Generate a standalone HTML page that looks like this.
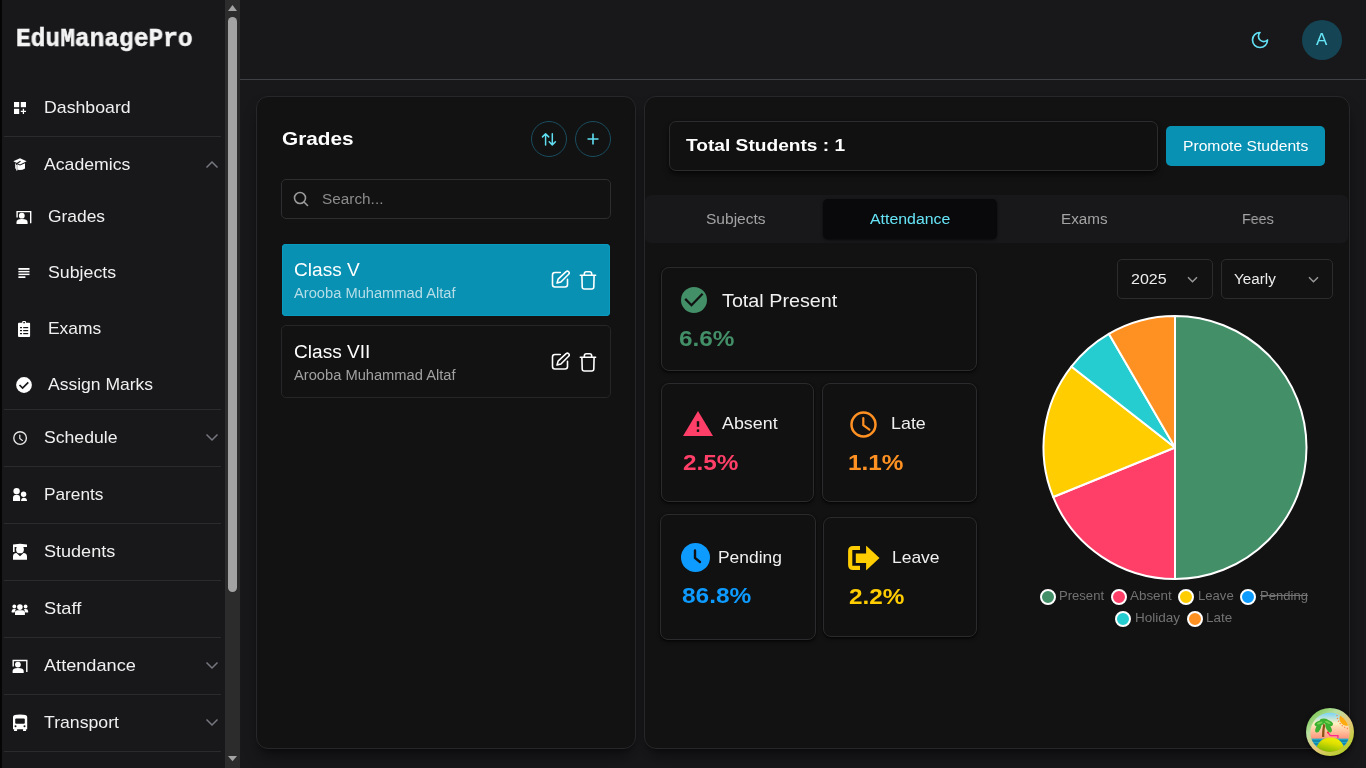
<!DOCTYPE html><html><head><meta charset="utf-8"><style>
html,body{margin:0;padding:0;width:1366px;height:768px;overflow:hidden;background:#18181b;font-family:'Liberation Sans', sans-serif;}
.t{position:absolute;white-space:nowrap;transform-origin:0 0;will-change:transform;}
.b{position:absolute;box-sizing:border-box;}
</style></head><body>
<div class="b" style="left:0px;top:0px;width:2px;height:768px;background:#050505"></div>
<div class="b" style="left:2px;top:0px;width:223px;height:768px;background:#18181b"></div>
<div class="b" style="left:225px;top:0px;width:15px;height:768px;background:#2c2c2c"></div>
<div class="b" style="left:228px;top:17px;width:9px;height:575px;background:#a3a3a3;border-radius:5px"></div>
<svg class="b" style="left:228px;top:5px;" width="9" height="6" viewBox="0 0 9 6"><path d="M0 6 L4.5 0 L9 6 Z" fill="#a3a3a3"/></svg>
<svg class="b" style="left:228px;top:756px;" width="9" height="6" viewBox="0 0 9 6"><path d="M0 0 L9 0 L4.5 5.2 Z" fill="#a3a3a3"/></svg>
<div class="t" style="left:16.10px;top:27px;font-size:25.5px;line-height:25.5px;color:#f4f4f4;font-weight:700;font-family:'Liberation Mono', monospace;transform:scaleX(0.9620);-webkit-text-stroke:0.5px #f4f4f4;">EduManagePro</div>
<div class="t" style="left:44.30px;top:100px;font-size:16.96px;line-height:16.96px;color:#f0f0f0;font-weight:400;font-family:'Liberation Sans', sans-serif;transform:scaleX(1.0462);">Dashboard</div>
<div class="b" style="left:4px;top:136px;width:217px;height:1px;background:#2b2b2d"></div>
<div class="t" style="left:44.30px;top:157px;font-size:16.96px;line-height:16.96px;color:#f0f0f0;font-weight:400;font-family:'Liberation Sans', sans-serif;transform:scaleX(1.0420);">Academics</div>
<div class="t" style="left:48.10px;top:209px;font-size:16.96px;line-height:16.96px;color:#f0f0f0;font-weight:400;font-family:'Liberation Sans', sans-serif;transform:scaleX(1.0270);">Grades</div>
<div class="t" style="left:48.10px;top:265px;font-size:16.96px;line-height:16.96px;color:#f0f0f0;font-weight:400;font-family:'Liberation Sans', sans-serif;transform:scaleX(1.0476);">Subjects</div>
<div class="t" style="left:48.10px;top:321px;font-size:16.96px;line-height:16.96px;color:#f0f0f0;font-weight:400;font-family:'Liberation Sans', sans-serif;transform:scaleX(1.0284);">Exams</div>
<div class="t" style="left:48.10px;top:377px;font-size:16.96px;line-height:16.96px;color:#f0f0f0;font-weight:400;font-family:'Liberation Sans', sans-serif;transform:scaleX(1.0339);">Assign Marks</div>
<div class="b" style="left:4px;top:409px;width:217px;height:1px;background:#2b2b2d"></div>
<div class="t" style="left:44.30px;top:430px;font-size:16.96px;line-height:16.96px;color:#f0f0f0;font-weight:400;font-family:'Liberation Sans', sans-serif;transform:scaleX(1.0396);">Schedule</div>
<div class="b" style="left:4px;top:466px;width:217px;height:1px;background:#2b2b2d"></div>
<div class="t" style="left:44.30px;top:487px;font-size:16.96px;line-height:16.96px;color:#f0f0f0;font-weight:400;font-family:'Liberation Sans', sans-serif;transform:scaleX(1.0189);">Parents</div>
<div class="b" style="left:4px;top:523px;width:217px;height:1px;background:#2b2b2d"></div>
<div class="t" style="left:44.30px;top:544px;font-size:16.96px;line-height:16.96px;color:#f0f0f0;font-weight:400;font-family:'Liberation Sans', sans-serif;transform:scaleX(1.0654);">Students</div>
<div class="b" style="left:4px;top:580px;width:217px;height:1px;background:#2b2b2d"></div>
<div class="t" style="left:44.30px;top:601px;font-size:16.96px;line-height:16.96px;color:#f0f0f0;font-weight:400;font-family:'Liberation Sans', sans-serif;transform:scaleX(1.0776);">Staff</div>
<div class="b" style="left:4px;top:637px;width:217px;height:1px;background:#2b2b2d"></div>
<div class="t" style="left:44.30px;top:658px;font-size:16.96px;line-height:16.96px;color:#f0f0f0;font-weight:400;font-family:'Liberation Sans', sans-serif;transform:scaleX(1.0714);">Attendance</div>
<div class="b" style="left:4px;top:694px;width:217px;height:1px;background:#2b2b2d"></div>
<div class="t" style="left:44.30px;top:715px;font-size:16.96px;line-height:16.96px;color:#f0f0f0;font-weight:400;font-family:'Liberation Sans', sans-serif;transform:scaleX(1.0435);">Transport</div>
<div class="b" style="left:4px;top:751px;width:217px;height:1px;background:#2b2b2d"></div>
<svg class="b" style="left:0;top:0" width="240" height="768"><rect x="14" y="102" width="5.2" height="5.2" fill="#ffffff"/><rect x="20.8" y="102" width="5.2" height="5.2" fill="#ffffff"/><rect x="14" y="108.8" width="5.2" height="5.2" fill="#ffffff"/><path d="M23.4 108.8v5.2M20.8 111.4h5.2" stroke="#ffffff" stroke-width="1.3"/><path d="M13.3 161.3 L20 158.3 L26.6 161.3 L20 164.4 Z" fill="#ffffff"/><path d="M15.2 163.2 V168.5 Q20 171.5 25 168.5 V163.2 L20 165.5 Z" fill="#ffffff"/><path d="M20.5 161.2 L16.8 163.6 V171.5" fill="none" stroke="#18181b" stroke-width="1.1"/><path d="M16.8 165 V170.5" stroke="#ffffff" stroke-width="1.2"/><path d="M17.099999999999998 217.5 V211.6 H30.7 V223.20000000000002" fill="none" stroke="#ffffff" stroke-width="1.4"/>
<circle cx="21.799999999999997" cy="215.70000000000002" r="2.9" fill="#ffffff"/>
<path d="M16.5 224.1 V222.1 Q16.5 219.1 21.9 219.1 Q27.599999999999998 219.1 27.599999999999998 222.1 V224.1 Z" fill="#ffffff"/><rect x="18.4" y="268" width="11.1" height="1.8" fill="#ffffff"/><rect x="18.4" y="270.9" width="11.1" height="1.5" fill="#ffffff"/><rect x="18.4" y="273.6" width="11.1" height="1.5" fill="#ffffff"/><rect x="18.4" y="276.3" width="7" height="1.7" fill="#ffffff"/><rect x="18" y="322.8" width="12.1" height="14.3" rx="1" fill="#ffffff"/><rect x="22.2" y="320.9" width="3.8" height="3.4" rx="1" fill="#ffffff"/><g fill="#18181b"><rect x="20" y="327" width="2" height="1.2"/><rect x="23.2" y="327" width="5" height="1.2"/><rect x="20" y="330" width="2" height="1.2"/><rect x="23.2" y="330" width="5" height="1.2"/><rect x="20" y="333" width="2" height="1.2"/><rect x="23.2" y="333" width="5" height="1.2"/><rect x="23.3" y="322" width="1.6" height="1.3"/></g><circle cx="24" cy="385" r="7.9" fill="#ffffff"/><path d="M19.5 385 L22.6 388.1 L28.3 382.3" fill="none" stroke="#18181b" stroke-width="1.7"/><circle cx="20.1" cy="438" r="6.3" fill="none" stroke="#e8e8e8" stroke-width="1.35"/><path d="M19.8 435.1 V438.5 L22.4 440.4" fill="none" stroke="#e8e8e8" stroke-width="1.2" stroke-linecap="round"/><circle cx="16.6" cy="491.1" r="3.2" fill="#ffffff"/><path d="M13 501 V498 Q13 494.8 16.6 494.8 Q20.1 494.8 20.1 498 V501 Z" fill="#ffffff"/><circle cx="23.6" cy="494.3" r="2.7" fill="#ffffff"/><path d="M21 501 Q21.3 497.8 23.8 497.8 Q26.8 497.8 27.1 501 Z" fill="#ffffff"/><path d="M13 544.5 L20 543.8 L27 544.5 V547 H13 Z" fill="#ffffff"/><rect x="13" y="547" width="1.6" height="5" fill="#ffffff"/><circle cx="20" cy="549.4" r="3.9" fill="#ffffff"/><path d="M13 559.8 V556.5 Q13 553.2 16.5 553 L20 556.2 L23.5 553 Q27 553.2 27 556.5 V559.8 Z" fill="#ffffff"/><circle cx="19.9" cy="607.1" r="2.8" fill="#ffffff"/><path d="M15 614.9 V612.6 Q15 610.2 17.8 610.2 H22 Q24.9 610.2 24.9 612.6 V614.9 Z" fill="#ffffff"/><circle cx="14.3" cy="606.5" r="1.9" fill="#ffffff"/><circle cx="25.6" cy="606.5" r="1.9" fill="#ffffff"/><path d="M11.7 612.6 V611.2 Q11.7 609.1 14 609.1 H15.8 L14.5 612.6 Z" fill="#ffffff"/><path d="M28.1 612.6 V611.2 Q28.1 609.1 25.8 609.1 H24 L25.3 612.6 Z" fill="#ffffff"/><path d="M13.2 666.4 V660.5 H26.8 V672.0999999999999" fill="none" stroke="#ffffff" stroke-width="1.4"/>
<circle cx="17.9" cy="664.5999999999999" r="2.9" fill="#ffffff"/>
<path d="M12.6 673.0 V671.0 Q12.6 668.0 18.0 668.0 Q23.7 668.0 23.7 671.0 V673.0 Z" fill="#ffffff"/><path d="M13 717 Q13 714.6 20 714.6 Q27.2 714.6 27.2 717 V729.3 H13 Z" fill="#ffffff"/><rect x="15.2" y="718.4" width="9.6" height="5.4" rx="1" fill="#18181b"/><circle cx="15.5" cy="726.3" r="1" fill="#18181b"/><circle cx="24.5" cy="726.3" r="1" fill="#18181b"/><rect x="14" y="729" width="3.1" height="2" rx=".5" fill="#ffffff"/><rect x="23" y="729" width="3.1" height="2" rx=".5" fill="#ffffff"/></svg>
<svg class="b" style="left:204.6px;top:160px;" width="14" height="9" viewBox="0 0 14 9"><path d="M1.5 7.5 L7 2 L12.5 7.5" fill="none" stroke="#777780" stroke-width="1.5"/></svg>
<svg class="b" style="left:204.6px;top:433px;" width="14" height="9" viewBox="0 0 14 9"><path d="M1.5 1.5 L7 7 L12.5 1.5" fill="none" stroke="#777780" stroke-width="1.5"/></svg>
<svg class="b" style="left:204.6px;top:661px;" width="14" height="9" viewBox="0 0 14 9"><path d="M1.5 1.5 L7 7 L12.5 1.5" fill="none" stroke="#777780" stroke-width="1.5"/></svg>
<svg class="b" style="left:204.6px;top:718px;" width="14" height="9" viewBox="0 0 14 9"><path d="M1.5 1.5 L7 7 L12.5 1.5" fill="none" stroke="#777780" stroke-width="1.5"/></svg>
<div class="b" style="left:240px;top:79px;width:1126px;height:1px;background:#3f3f46"></div>
<svg class="b" style="left:1250px;top:30px;" width="20" height="20" viewBox="0 0 24 24"><path d="M12 3a6 6 0 0 0 9 9 9 9 0 1 1-9-9Z" fill="none" stroke="#62e0f3" stroke-width="2" stroke-linecap="round" stroke-linejoin="round"/></svg>
<div class="b" style="left:1302px;top:20px;width:40px;height:40px;background:#154454;border-radius:50%"></div>
<div class="t" style="left:1315.50px;top:32px;font-size:16.96px;line-height:16.96px;color:#67e8f9;font-weight:400;font-family:'Liberation Sans', sans-serif;transform:scaleX(0.9675);">A</div>
<div class="b" style="left:256px;top:96px;width:380px;height:653px;background:#121212;border:1px solid #27272a;border-radius:12px;box-shadow:0 10px 15px -3px rgba(0,0,0,.45),0 4px 6px -4px rgba(0,0,0,.45)"></div>
<div class="b" style="left:644px;top:96px;width:706px;height:653px;background:#121212;border:1px solid #27272a;border-radius:12px;box-shadow:0 10px 15px -3px rgba(0,0,0,.45),0 4px 6px -4px rgba(0,0,0,.45)"></div>
<div class="t" style="left:281.70px;top:129px;font-size:19.08px;line-height:19.08px;color:#ffffff;font-weight:700;font-family:'Liberation Sans', sans-serif;transform:scaleX(1.0890);">Grades</div>
<div class="b" style="left:531px;top:121px;width:36px;height:36px;border:1px solid #194e60;border-radius:50%"></div>
<div class="b" style="left:575px;top:121px;width:36px;height:36px;border:1px solid #194e60;border-radius:50%"></div>
<svg class="b" style="left:540px;top:131px;" width="18" height="16" viewBox="0 0 18 16"><path d="M2.5 5.9 L5.6 2.8 L8.7 5.9 M5.6 2.8 V13.9 M15.4 10.8 L12.3 13.9 L9.2 10.8 M12.3 13.9 V2.8" fill="none" stroke="#60def1" stroke-width="1.5" stroke-linecap="round" stroke-linejoin="round"/></svg>
<svg class="b" style="left:583px;top:129px;" width="20" height="20" viewBox="0 0 20 20"><path d="M10 4.5v11M4.5 10h11" fill="none" stroke="#60def1" stroke-width="1.6" stroke-linecap="butt"/></svg>
<div class="b" style="left:281px;top:179px;width:330px;height:40px;border:1px solid #2e2e30;border-radius:5px;background:#121212"></div>
<svg class="b" style="left:293.3px;top:191px;" width="16" height="16" viewBox="0 0 16 16"><circle cx="7" cy="7" r="5.5" fill="none" stroke="#9a9a9a" stroke-width="1.6"/><path d="M11 11l3.5 3.5" stroke="#9a9a9a" stroke-width="1.6" stroke-linecap="round"/></svg>
<div class="t" style="left:322.30px;top:192px;font-size:14.84px;line-height:14.84px;color:#8b8b8b;font-weight:400;font-family:'Liberation Sans', sans-serif;transform:scaleX(1.0347);">Search...</div>
<div class="b" style="left:282px;top:244px;width:328px;height:72px;background:#0891b2;border-radius:4px;box-shadow:inset 0 0 0 1px #0a9cc0"></div>
<div class="t" style="left:293.50px;top:260px;font-size:19.08px;line-height:19.08px;color:#ffffff;font-weight:400;font-family:'Liberation Sans', sans-serif;transform:scaleX(0.9947);">Class V</div>
<div class="t" style="left:293.50px;top:287px;font-size:13.78px;line-height:13.78px;color:#b5dde8;font-weight:400;font-family:'Liberation Sans', sans-serif;transform:scaleX(1.0661);">Arooba Muhammad Altaf</div>
<div class="b" style="left:281px;top:325px;width:330px;height:73px;border:1px solid #262628;border-radius:5px;background:#121212"></div>
<div class="t" style="left:293.50px;top:342px;font-size:19.08px;line-height:19.08px;color:#ffffff;font-weight:400;font-family:'Liberation Sans', sans-serif;transform:scaleX(0.9957);">Class VII</div>
<div class="t" style="left:293.50px;top:369px;font-size:13.78px;line-height:13.78px;color:#a0a0a0;font-weight:400;font-family:'Liberation Sans', sans-serif;transform:scaleX(1.0661);">Arooba Muhammad Altaf</div>
<svg class="b" style="left:550px;top:269px;" width="20" height="20" viewBox="0 0 20 20"><path d="M10.3 3.5 H5 Q2.5 3.5 2.5 6 V15.5 Q2.5 18 5 18 H15 Q17.5 18 17.5 15.5 V10.3" fill="none" stroke="#ffffff" stroke-width="1.6" stroke-linecap="round"/><path d="M16.1 2.7 a1.8 1.8 0 0 1 2.55 2.55 L10.9 13 L7 14.1 L8.1 10.2 Z" fill="none" stroke="#ffffff" stroke-width="1.6" stroke-linejoin="round"/></svg>
<svg class="b" style="left:578px;top:270px;" width="20" height="20" viewBox="0 0 20 20"><path d="M2.3 5.3 H17.6 M6.3 5.3 V3.9 Q6.3 1.8 8.4 1.8 H11.6 Q13.7 1.8 13.7 3.9 V5.3 M3.9 5.3 L4.2 17 Q4.3 19 6.3 19 H13.7 Q15.7 19 15.8 17 L16.1 5.3" fill="none" stroke="#ffffff" stroke-width="1.6" stroke-linecap="round" stroke-linejoin="round"/></svg>
<svg class="b" style="left:550px;top:351px;" width="20" height="20" viewBox="0 0 20 20"><path d="M10.3 3.5 H5 Q2.5 3.5 2.5 6 V15.5 Q2.5 18 5 18 H15 Q17.5 18 17.5 15.5 V10.3" fill="none" stroke="#ffffff" stroke-width="1.6" stroke-linecap="round"/><path d="M16.1 2.7 a1.8 1.8 0 0 1 2.55 2.55 L10.9 13 L7 14.1 L8.1 10.2 Z" fill="none" stroke="#ffffff" stroke-width="1.6" stroke-linejoin="round"/></svg>
<svg class="b" style="left:578px;top:352px;" width="20" height="20" viewBox="0 0 20 20"><path d="M2.3 5.3 H17.6 M6.3 5.3 V3.9 Q6.3 1.8 8.4 1.8 H11.6 Q13.7 1.8 13.7 3.9 V5.3 M3.9 5.3 L4.2 17 Q4.3 19 6.3 19 H13.7 Q15.7 19 15.8 17 L16.1 5.3" fill="none" stroke="#ffffff" stroke-width="1.6" stroke-linecap="round" stroke-linejoin="round"/></svg>
<div class="b" style="left:669px;top:121px;width:489px;height:50px;border:1px solid #2c2c2e;border-radius:7px;background:#111111;box-shadow:0 4px 6px -1px rgba(0,0,0,.55),0 2px 4px -2px rgba(0,0,0,.5)"></div>
<div class="t" style="left:686.40px;top:138px;font-size:16.96px;line-height:16.96px;color:#ffffff;font-weight:700;font-family:'Liberation Sans', sans-serif;transform:scaleX(1.1302);">Total Students : 1</div>
<div class="b" style="left:1166px;top:126px;width:159px;height:40px;background:#0891b2;border-radius:5px"></div>
<div class="t" style="left:1183.10px;top:139px;font-size:14.84px;line-height:14.84px;color:#ffffff;font-weight:400;font-family:'Liberation Sans', sans-serif;transform:scaleX(1.0554);">Promote Students</div>
<div class="b" style="left:645px;top:195px;width:703px;height:48px;background:#18181b;border-radius:6px"></div>
<div class="b" style="left:823px;top:199px;width:174px;height:40px;background:#09090b;border-radius:5px;box-shadow:0 1px 3px rgba(0,0,0,.5),0 1px 2px -1px rgba(0,0,0,.5)"></div>
<div class="t" style="left:705.50px;top:212px;font-size:14.84px;line-height:14.84px;color:#a3a3a3;font-weight:400;font-family:'Liberation Sans', sans-serif;transform:scaleX(1.0476);">Subjects</div>
<div class="t" style="left:870.00px;top:212px;font-size:14.84px;line-height:14.84px;color:#66e4f6;font-weight:400;font-family:'Liberation Sans', sans-serif;transform:scaleX(1.0714);">Attendance</div>
<div class="t" style="left:1061.00px;top:212px;font-size:14.84px;line-height:14.84px;color:#a3a3a3;font-weight:400;font-family:'Liberation Sans', sans-serif;transform:scaleX(1.0284);">Exams</div>
<div class="t" style="left:1242.00px;top:212px;font-size:14.84px;line-height:14.84px;color:#a3a3a3;font-weight:400;font-family:'Liberation Sans', sans-serif;transform:scaleX(0.9641);">Fees</div>
<div class="b" style="left:661px;top:267px;width:316px;height:104px;background:#111111;border:1px solid #2b2b2d;border-radius:8px;box-shadow:0 2px 4px -1px rgba(0,0,0,.6),0 1px 2px rgba(0,0,0,.5)"></div>
<div class="b" style="left:661px;top:383px;width:153px;height:119px;background:#111111;border:1px solid #2b2b2d;border-radius:8px;box-shadow:0 2px 4px -1px rgba(0,0,0,.6),0 1px 2px rgba(0,0,0,.5)"></div>
<div class="b" style="left:822px;top:383px;width:155px;height:119px;background:#111111;border:1px solid #2b2b2d;border-radius:8px;box-shadow:0 2px 4px -1px rgba(0,0,0,.6),0 1px 2px rgba(0,0,0,.5)"></div>
<div class="b" style="left:660px;top:514px;width:156px;height:126px;background:#111111;border:1px solid #2b2b2d;border-radius:8px;box-shadow:0 2px 4px -1px rgba(0,0,0,.6),0 1px 2px rgba(0,0,0,.5)"></div>
<div class="b" style="left:823px;top:517px;width:154px;height:120px;background:#111111;border:1px solid #2b2b2d;border-radius:8px;box-shadow:0 2px 4px -1px rgba(0,0,0,.6),0 1px 2px rgba(0,0,0,.5)"></div>
<svg class="b" style="left:681px;top:287px;" width="26" height="26" viewBox="0 0 26 26"><circle cx="13" cy="13" r="13" fill="#428f68"/><path d="M4.2 11.9 L10.5 18.2 L21.6 6.8" fill="none" stroke="#111" stroke-width="2.3" stroke-linecap="butt"/></svg>
<div class="t" style="left:722.20px;top:291px;font-size:19.08px;line-height:19.08px;color:#f0f0f0;font-weight:400;font-family:'Liberation Sans', sans-serif;transform:scaleX(1.0354);">Total Present</div>
<div class="t" style="left:679.20px;top:328px;font-size:21.2px;line-height:21.2px;color:#428f68;font-weight:700;font-family:'Liberation Sans', sans-serif;transform:scaleX(1.1479);">6.6%</div>
<svg class="b" style="left:683px;top:411px;" width="30" height="25" viewBox="0 0 30 25"><path d="M15 0 L30 25 L0 25 Z" fill="#ff3f68"/><rect x="13.8" y="10.2" width="2.4" height="5.6" fill="#111"/><rect x="13.8" y="18.4" width="2.4" height="2.5" fill="#111"/></svg>
<div class="t" style="left:722.10px;top:416px;font-size:16.96px;line-height:16.96px;color:#f0f0f0;font-weight:400;font-family:'Liberation Sans', sans-serif;transform:scaleX(1.0548);">Absent</div>
<div class="t" style="left:682.80px;top:452px;font-size:21.2px;line-height:21.2px;color:#ff3f68;font-weight:700;font-family:'Liberation Sans', sans-serif;transform:scaleX(1.1479);">2.5%</div>
<svg class="b" style="left:849.5px;top:410.5px;" width="27" height="27" viewBox="0 0 27 27"><circle cx="13.5" cy="13.5" r="12" fill="none" stroke="#ff9123" stroke-width="2.5"/><path d="M13.3 7.2 V14.2 L19.4 18.6" fill="none" stroke="#ff9123" stroke-width="2.2" stroke-linecap="round"/></svg>
<div class="t" style="left:891.20px;top:416px;font-size:16.96px;line-height:16.96px;color:#f0f0f0;font-weight:400;font-family:'Liberation Sans', sans-serif;transform:scaleX(1.0553);">Late</div>
<div class="t" style="left:848.20px;top:452px;font-size:21.2px;line-height:21.2px;color:#ff9123;font-weight:700;font-family:'Liberation Sans', sans-serif;transform:scaleX(1.1479);">1.1%</div>
<svg class="b" style="left:681px;top:543px;" width="29" height="29" viewBox="0 0 29 29"><circle cx="14.5" cy="14.5" r="14.5" fill="#0d9bff"/><path d="M14 7.5v7.5l5 4" fill="none" stroke="#111" stroke-width="2.4" stroke-linecap="round"/></svg>
<div class="t" style="left:718.30px;top:550px;font-size:16.96px;line-height:16.96px;color:#f0f0f0;font-weight:400;font-family:'Liberation Sans', sans-serif;transform:scaleX(1.0276);">Pending</div>
<div class="t" style="left:681.60px;top:585px;font-size:21.2px;line-height:21.2px;color:#0d9bff;font-weight:700;font-family:'Liberation Sans', sans-serif;transform:scaleX(1.1543);">86.8%</div>
<svg class="b" style="left:847px;top:545px;" width="33" height="26" viewBox="0 0 33 26"><path d="M13 0.9 H6.2 Q1.1 0.9 1.1 6 V19.9 Q1.1 25 6.2 25 H13 V20.8 H5.3 V5.1 H13 Z" fill="#ffcd00"/><path d="M8.8 8.4 H19.1 V1.2 Q19.1 0.6 19.6 1.1 L32.5 13 L19.6 24.9 Q19.1 25.4 19.1 24.8 V18 H8.8 Z" fill="#ffcd00"/></svg>
<div class="t" style="left:892.40px;top:550px;font-size:16.96px;line-height:16.96px;color:#f0f0f0;font-weight:400;font-family:'Liberation Sans', sans-serif;transform:scaleX(1.0299);">Leave</div>
<div class="t" style="left:849.00px;top:586px;font-size:21.2px;line-height:21.2px;color:#ffcd00;font-weight:700;font-family:'Liberation Sans', sans-serif;transform:scaleX(1.1479);">2.2%</div>
<div class="b" style="left:1117px;top:259px;width:96px;height:40px;border:1px solid #2c2c2e;border-radius:5px;background:#121212"></div>
<div class="b" style="left:1221px;top:259px;width:112px;height:40px;border:1px solid #2c2c2e;border-radius:5px;background:#121212"></div>
<div class="t" style="left:1130.50px;top:272px;font-size:14.84px;line-height:14.84px;color:#ededed;font-weight:400;font-family:'Liberation Sans', sans-serif;transform:scaleX(1.0792);">2025</div>
<div class="t" style="left:1234.20px;top:272px;font-size:14.84px;line-height:14.84px;color:#ededed;font-weight:400;font-family:'Liberation Sans', sans-serif;transform:scaleX(1.0273);">Yearly</div>
<svg class="b" style="left:1187.0px;top:275.5px;" width="11" height="7" viewBox="0 0 11 7"><path d="M1 1.2l4.5 4.5 4.5-4.5" fill="none" stroke="#9b9b9b" stroke-width="1.4"/></svg>
<svg class="b" style="left:1307.5px;top:275.5px;" width="11" height="7" viewBox="0 0 11 7"><path d="M1 1.2l4.5 4.5 4.5-4.5" fill="none" stroke="#9b9b9b" stroke-width="1.4"/></svg>
<svg class="b" style="left:0;top:0" width="1366" height="768"><path d="M1175 447.5 L1175.00 316.00 A131.5 131.5 0 0 1 1175.00 579.00 Z" fill="#428f68" stroke="#ffffff" stroke-width="2" stroke-linejoin="round"/><path d="M1175 447.5 L1175.00 579.00 A131.5 131.5 0 0 1 1053.16 496.97 Z" fill="#ff3f68" stroke="#ffffff" stroke-width="2" stroke-linejoin="round"/><path d="M1175 447.5 L1053.16 496.97 A131.5 131.5 0 0 1 1071.38 366.54 Z" fill="#ffcd00" stroke="#ffffff" stroke-width="2" stroke-linejoin="round"/><path d="M1175 447.5 L1071.38 366.54 A131.5 131.5 0 0 1 1108.85 333.85 Z" fill="#26cdd0" stroke="#ffffff" stroke-width="2" stroke-linejoin="round"/><path d="M1175 447.5 L1108.85 333.85 A131.5 131.5 0 0 1 1175.00 316.00 Z" fill="#ff9123" stroke="#ffffff" stroke-width="2" stroke-linejoin="round"/></svg>
<div class="b" style="left:1040px;top:589px;width:16px;height:16px;border-radius:50%;background:#428f68;border:2px solid #fff"></div>
<div class="t" style="left:1059.30px;top:590px;font-size:12.72px;line-height:12.72px;color:#727272;font-weight:400;font-family:'Liberation Sans', sans-serif;transform:scaleX(1.0271);">Present</div>
<div class="b" style="left:1111px;top:589px;width:16px;height:16px;border-radius:50%;background:#ff3f68;border:2px solid #fff"></div>
<div class="t" style="left:1130.20px;top:590px;font-size:12.72px;line-height:12.72px;color:#727272;font-weight:400;font-family:'Liberation Sans', sans-serif;transform:scaleX(1.0548);">Absent</div>
<div class="b" style="left:1178.4px;top:589px;width:16px;height:16px;border-radius:50%;background:#ffcd00;border:2px solid #fff"></div>
<div class="t" style="left:1197.70px;top:590px;font-size:12.72px;line-height:12.72px;color:#727272;font-weight:400;font-family:'Liberation Sans', sans-serif;transform:scaleX(1.0299);">Leave</div>
<div class="b" style="left:1240px;top:589px;width:16px;height:16px;border-radius:50%;background:#0d9bff;border:2px solid #fff"></div>
<div class="t" style="left:1259.90px;top:590px;font-size:12.72px;line-height:12.72px;color:#727272;font-weight:400;font-family:'Liberation Sans', sans-serif;transform:scaleX(1.0276);text-decoration:line-through;">Pending</div>
<div class="b" style="left:1115.3px;top:611px;width:16px;height:16px;border-radius:50%;background:#26cdd0;border:2px solid #fff"></div>
<div class="t" style="left:1134.70px;top:612px;font-size:12.72px;line-height:12.72px;color:#727272;font-weight:400;font-family:'Liberation Sans', sans-serif;transform:scaleX(1.0632);">Holiday</div>
<div class="b" style="left:1186.5px;top:611px;width:16px;height:16px;border-radius:50%;background:#ff9123;border:2px solid #fff"></div>
<div class="t" style="left:1205.80px;top:612px;font-size:12.72px;line-height:12.72px;color:#727272;font-weight:400;font-family:'Liberation Sans', sans-serif;transform:scaleX(1.0553);">Late</div>
<svg class="b" style="left:1305px;top:707px;filter:drop-shadow(0 1px 2px rgba(0,0,0,.6))" width="50" height="50" viewBox="-1 -1 50 50">
<defs><linearGradient id="rim" x1="0.1" y1="0" x2="0.9" y2="1"><stop offset="0" stop-color="#6cc040"/><stop offset=".3" stop-color="#b8e0a0"/><stop offset=".55" stop-color="#e8c880"/><stop offset="1" stop-color="#a8d010"/></linearGradient>
<linearGradient id="sky" x1="0" y1="0" x2="0" y2="1"><stop offset=".1" stop-color="#78d4f8"/><stop offset=".32" stop-color="#fff2c0"/><stop offset=".62" stop-color="#ff9a80"/></linearGradient>
<linearGradient id="isl" x1="0.3" y1="1" x2="0.7" y2="0"><stop offset="0" stop-color="#58a800"/><stop offset=".7" stop-color="#e0e000"/><stop offset="1" stop-color="#f0f000"/></linearGradient>
<clipPath id="cp"><circle cx="24" cy="24.4" r="19.6"/></clipPath></defs>
<circle cx="24" cy="24" r="24" fill="url(#rim)"/>
<g clip-path="url(#cp)">
<rect x="0" y="0" width="48" height="48" fill="url(#sky)"/>
<path d="M35 6.4 L44.6 16.2 A6.9 6.9 0 0 1 35 6.4 Z" fill="#ffaa10"/>
<path d="M31 7 A14 14 0 0 0 42 20.5" fill="none" stroke="#ff8a50" stroke-width="1.3" stroke-dasharray="1.3 1.6"/>
<rect x="0" y="30.6" width="48" height="9" fill="#20a8c8"/>
<path d="M0 33h48M0 36h48" stroke="#0a6a90" stroke-width="1"/>
<path d="M21.4 23.8 L24.3 27.6 H31.9 V30.3" fill="none" stroke="#ff2a90" stroke-width="1.4"/><path d="M21.4 23.9 L22.4 25" stroke="#ff3020" stroke-width="1.6"/>
<g transform="translate(-2.2 -2.6)">
<path d="M19.3 31.5 Q19.4 24 20.4 18.8" fill="none" stroke="#8a5418" stroke-width="2.3"/>
<g fill="#3cb030"><ellipse cx="15.5" cy="18" rx="5" ry="2.6" transform="rotate(-20 15.5 18)"/><ellipse cx="24.5" cy="17.5" rx="5" ry="2.6" transform="rotate(25 24.5 17.5)"/><ellipse cx="14.5" cy="22.5" rx="2.4" ry="5" transform="rotate(25 14.5 22.5)"/><ellipse cx="24.8" cy="22.6" rx="2.4" ry="4.8" transform="rotate(-30 24.8 22.6)"/><ellipse cx="20" cy="15.5" rx="4" ry="2.3"/></g>
<g fill="#78d050"><ellipse cx="16" cy="17.6" rx="3" ry="1" transform="rotate(-20 16 17.6)"/><ellipse cx="24" cy="17" rx="3" ry="1" transform="rotate(25 24 17)"/></g>
</g>
<path d="M8.5 48 Q10.5 29.5 24.5 29.5 Q38.5 29.5 39.5 48Z" fill="url(#isl)"/>
</g>
</svg>
</body></html>
